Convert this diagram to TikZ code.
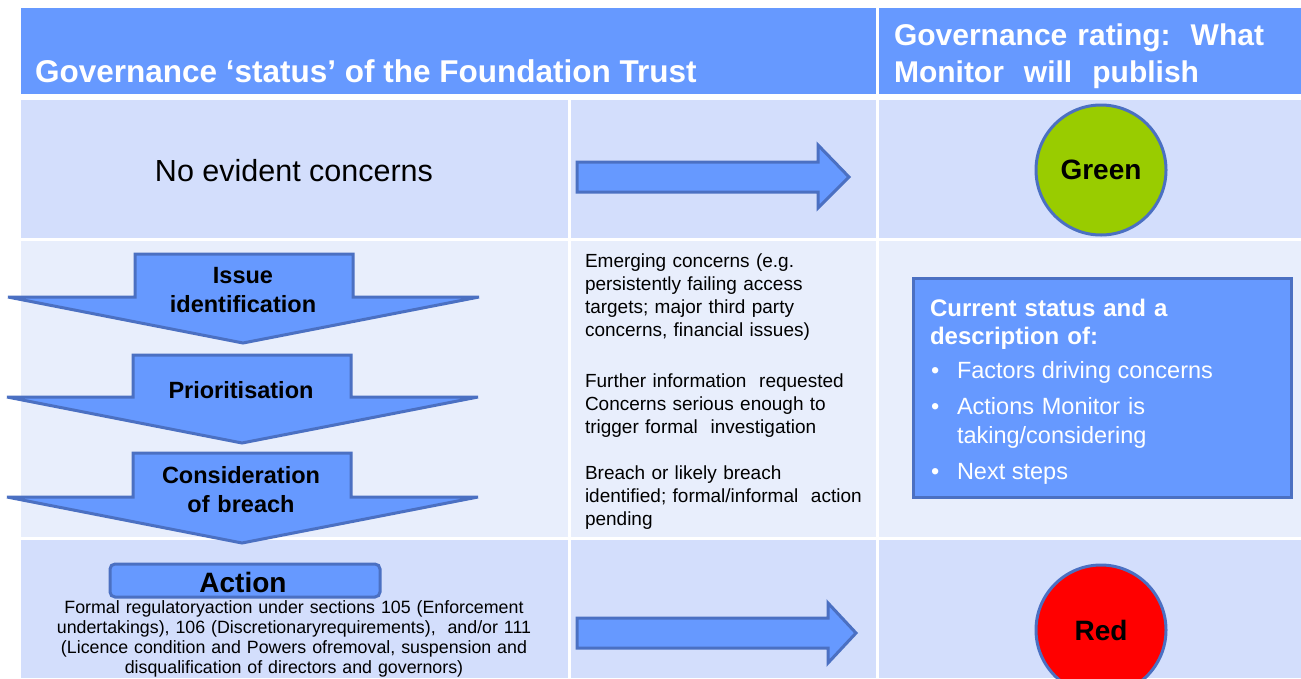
\documentclass[tikz,border=0pt]{standalone}
\usepackage{fontspec}
\setmainfont{Liberation Sans}
\definecolor{hdrblue}{HTML}{6699FF}
\definecolor{rowA}{HTML}{D3DEFC}
\definecolor{rowB}{HTML}{E8EEFC}
\definecolor{edgeblue}{HTML}{4B70C2}
\definecolor{grn}{HTML}{99CC00}
\definecolor{redc}{HTML}{FF0000}
\begin{document}
\begin{tikzpicture}[x=1pt,y=-1pt,
  cellA/.style={fill=rowA},
  cellB/.style={fill=rowB},
  hdrcell/.style={fill=hdrblue},
  blockarrow/.style={fill=hdrblue, draw=edgeblue, line width=3pt},
  lbl/.style={inner sep=0pt, outer sep=0pt},
  hdrtext/.style={lbl, text=white, font=\fontsize{30}{37}\selectfont\bfseries},
  arrowtext/.style={lbl, align=center, text width=230pt, font=\fontsize{23.5}{29}\selectfont\bfseries},
  coltext/.style={lbl, align=left, text width=290pt, font=\fontsize{19}{23}\selectfont},
  boxtext/.style={lbl, text=white, font=\fontsize{23.5}{29}\selectfont},
  rating/.style={circle, draw=edgeblue, line width=3pt, minimum size=130pt, inner sep=0pt, font=\fontsize{28}{32}\selectfont\bfseries},
]
\useasboundingbox (0,0) rectangle (1301,678);
\fill[white] (0,0) rectangle (1301,678);
% header
\fill[hdrcell] (21,8) rectangle (876,94);
\fill[hdrcell] (879,8) rectangle (1301,94);
% row 1
\fill[cellA] (21,100) rectangle (568,238);
\fill[cellA] (571,100) rectangle (876,238);
\fill[cellA] (879,100) rectangle (1301,238);
% row 2
\fill[cellB] (21,241) rectangle (568,537);
\fill[cellB] (571,241) rectangle (876,537);
\fill[cellB] (879,241) rectangle (1301,537);
% row 3
\fill[cellA] (21,540) rectangle (568,678);
\fill[cellA] (571,540) rectangle (876,678);
\fill[cellA] (879,540) rectangle (1301,678);

% header texts
\node[hdrtext, anchor=base west, font=\fontsize{31.5}{37}\selectfont\bfseries] (hleft) at (35,82) {Governance ‘status’ of the Foundation Trust};
\node[hdrtext, anchor=base west, align=left, text width=400pt] (hright) at (894,45) {Governance rating:\ \ What\\Monitor\ \ will\ \ publish};

% row 1
\node[lbl, font=\fontsize{30.5}{36}\selectfont] (noconc) at (294,171) {No evident concerns};
\draw[blockarrow] (577,162) -- (818,162) -- (818,145) -- (849,177) -- (818,208) -- (818,192) -- (577,192) -- cycle;
\node[rating, fill=grn] (green) at (1101,170) {Green};

% row 2: down arrows
\draw[blockarrow] (135,254) -- (353,254) -- (353,297) -- (479,297) -- (243,343) -- (8,297) -- (135,297) -- cycle;
\draw[blockarrow] (133,355) -- (351,355) -- (351,397) -- (478,397) -- (242,443) -- (7,397) -- (133,397) -- cycle;
\draw[blockarrow] (133,453) -- (351,453) -- (351,497) -- (478,497) -- (242,543) -- (7,497) -- (133,497) -- cycle;
\node[arrowtext, anchor=base] (issue) at (243,283) {Issue\\identification};
\node[arrowtext, anchor=base] (prio) at (241,398) {Prioritisation};
\node[arrowtext, anchor=base] (consid) at (241,483) {Consideration\\of breach};

\node[coltext, anchor=base west] (emerg) at (585,267) {Emerging concerns (e.g.\\persistently failing access\\targets; major third party\\concerns, financial issues)};
\node[coltext, anchor=base west] (further) at (585,387) {Further information\ \ requested\\Concerns serious enough to\\trigger formal\ \ investigation};
\node[coltext, anchor=base west] (breach) at (585,479) {Breach or likely breach\\identified; formal/informal\ \ action\\pending};

\draw[fill=hdrblue, draw=edgeblue, line width=3pt] (913,278) rectangle (1291,497);
\node[boxtext, anchor=base west, align=left, text width=350pt, font=\fontsize{24}{28}\selectfont\bfseries] (cur) at (930,316) {Current status and a\\description of:};
\node[boxtext, anchor=base west] (b1) at (931,378) {•};
\node[boxtext, anchor=base west] (t1) at (957,378) {Factors driving concerns};
\node[boxtext, anchor=base west] (b2) at (931,414) {•};
\node[boxtext, anchor=base west, align=left, text width=320pt] (t2) at (957,414) {Actions Monitor is\\taking/considering};
\node[boxtext, anchor=base west] (b3) at (931,479) {•};
\node[boxtext, anchor=base west] (t3) at (957,479) {Next steps};

% row 3
\draw[fill=hdrblue, draw=edgeblue, line width=3pt, rounded corners=5pt] (110,564) rectangle (380,597);
\node[lbl, anchor=base, font=\fontsize{28}{32}\selectfont\bfseries] (action) at (243,592) {Action};
\node[lbl, anchor=base, align=center, text width=500pt, font=\fontsize{17.8}{20}\selectfont] (formal) at (294,613) {Formal regulatoryaction under sections 105 (Enforcement\\undertakings), 106 (Discretionaryrequirements),\ \ and/or 111\\(Licence condition and Powers ofremoval, suspension and\\disqualification of directors and governors)};
\draw[blockarrow] (577,618) -- (828,618) -- (828,603) -- (856,633) -- (828,663) -- (828,648) -- (577,648) -- cycle;
\node[rating, fill=redc] (red) at (1101,630) {Red};
\end{tikzpicture}
\end{document}
